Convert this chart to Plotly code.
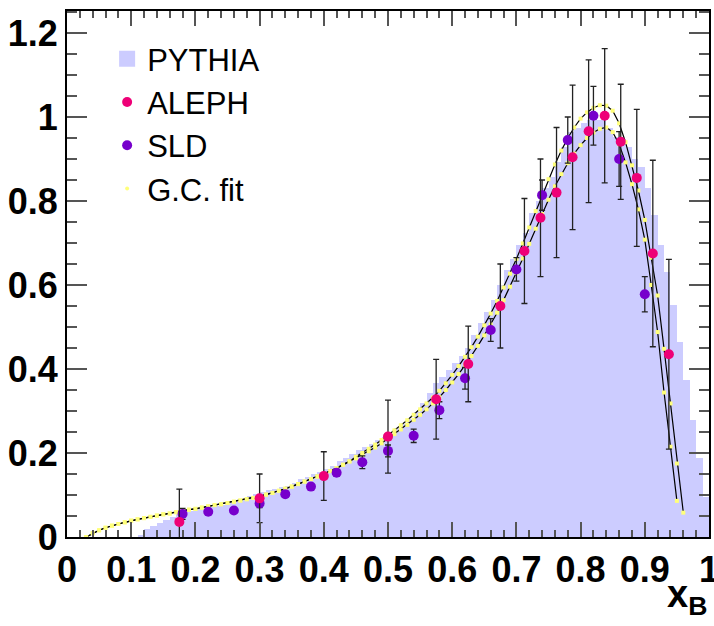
import plotly.graph_objects as go

# ---------------- data ----------------
# PYTHIA histogram: bin left edges (width 0.01) and contents
hist_left = [round(0.11 + 0.01 * i, 2) for i in range(89)]
hist_vals = [0.005, 0.018, 0.026, 0.034, 0.040, 0.047, 0.055, 0.059, 0.063, 0.066,
             0.069, 0.071, 0.074, 0.077, 0.080, 0.085, 0.091, 0.097, 0.103, 0.108,
             0.111, 0.114, 0.118, 0.121, 0.128, 0.137, 0.142, 0.149, 0.155, 0.162,
             0.170, 0.180, 0.189, 0.198, 0.207, 0.215, 0.222, 0.230, 0.238, 0.250,
             0.260, 0.270, 0.280, 0.298, 0.318, 0.342, 0.366, 0.382, 0.398, 0.414,
             0.432, 0.450, 0.480, 0.510, 0.535, 0.565, 0.600, 0.636, 0.662, 0.695,
             0.724, 0.771, 0.800, 0.830, 0.857, 0.893, 0.929, 0.964, 0.975, 0.986,
             0.993, 0.993, 0.993, 0.975, 0.952, 0.940, 0.929, 0.900, 0.881, 0.831,
             0.767, 0.695, 0.631, 0.552, 0.464, 0.374, 0.279, 0.188, 0.095]

# ALEPH data
aleph_x = [0.175, 0.30, 0.40, 0.50, 0.575, 0.625, 0.675, 0.7125, 0.7375, 0.7625,
           0.7875, 0.8125, 0.8375, 0.8625, 0.8875, 0.9125, 0.9375]
aleph_y = [0.036, 0.092, 0.145, 0.239, 0.328, 0.412, 0.550, 0.681, 0.760, 0.820,
           0.904, 0.966, 1.003, 0.941, 0.855, 0.675, 0.435]
aleph_err = [0.078, 0.058, 0.058, 0.087, 0.095, 0.090, 0.100, 0.125, 0.140, 0.155,
             0.172, 0.170, 0.160, 0.137, 0.163, 0.222, 0.226]

# SLD data
sld_x = [0.18, 0.22, 0.26, 0.30, 0.34, 0.38, 0.42, 0.46, 0.50, 0.54,
         0.58, 0.62, 0.66, 0.70, 0.74, 0.78, 0.82, 0.86, 0.90]
sld_y = [0.055, 0.060, 0.063, 0.080, 0.102, 0.120, 0.153, 0.178, 0.205, 0.241,
         0.302, 0.378, 0.493, 0.637, 0.814, 0.945, 1.003, 0.900, 0.578]
sld_err = [0.013, 0.004, 0.004, 0.010, 0.007, 0.007, 0.008, 0.015, 0.014, 0.016,
           0.020, 0.026, 0.027, 0.028, 0.036, 0.055, 0.070, 0.065, 0.042]

# G.C. fit curves (upper / lower), sampled every 0.01 from x = 0.03
fit_low = [0.000, 0.009, 0.016, 0.022, 0.027, 0.031, 0.035, 0.039, 0.042, 0.045,
           0.048, 0.051, 0.054, 0.056, 0.059, 0.062, 0.065, 0.067, 0.070, 0.073,
           0.076, 0.078, 0.081, 0.084, 0.087, 0.090, 0.093, 0.097, 0.101, 0.105,
           0.110, 0.115, 0.120, 0.126, 0.132, 0.138, 0.144, 0.150, 0.157, 0.164,
           0.172, 0.180]
fitA_high = [0.191, 0.200, 0.210, 0.220, 0.231, 0.242, 0.254, 0.266, 0.278, 0.291,
             0.304, 0.318, 0.332, 0.348, 0.366, 0.386, 0.407, 0.429, 0.452, 0.477,
             0.504, 0.532, 0.562, 0.594, 0.627, 0.662, 0.699, 0.737, 0.776, 0.815,
             0.852, 0.887, 0.920, 0.950, 0.975, 0.996, 1.011, 1.022, 1.028, 1.027,
             1.015, 0.985, 0.940, 0.885, 0.825, 0.755, 0.665, 0.575, 0.448, 0.318,
             0.175, 0.058]
fitB_high = [0.187, 0.196, 0.204, 0.213, 0.223, 0.234, 0.245, 0.256, 0.267, 0.279,
             0.291, 0.304, 0.318, 0.333, 0.350, 0.368, 0.388, 0.409, 0.431, 0.455,
             0.480, 0.506, 0.534, 0.564, 0.596, 0.629, 0.663, 0.698, 0.734, 0.769,
             0.803, 0.835, 0.864, 0.890, 0.913, 0.933, 0.950, 0.963, 0.972, 0.975,
             0.964, 0.935, 0.892, 0.840, 0.780, 0.708, 0.600, 0.488, 0.344, 0.215,
             0.086]
fitA_y = fit_low + fitA_high
fitB_y = fit_low + fitB_high
fitA_x = [round(0.03 + 0.01 * i, 2) for i in range(len(fitA_y))]
fitB_x = [round(0.03 + 0.01 * i, 2) for i in range(len(fitB_y))]

x_ticks = [round(0.1 * i, 1) for i in range(11)]
y_ticks = [0, 0.2, 0.4, 0.6, 0.8, 1, 1.2]

# ---------------- figure ----------------
BOLD_FONT = "Liberation Sans Narrow, Arial Narrow, Liberation Sans, Arial"
LEG_FONT = "Liberation Sans, Arial, Helvetica"
PINK = "#ee0077"
PURPLE = "#7700cc"
YELLOW = "#ffff7a"
LAVENDER = "#ccccff"

fig = go.Figure()

fig.add_trace(go.Bar(
    x=[l + 0.005 for l in hist_left], y=hist_vals, width=0.01,
    marker=dict(color=LAVENDER, line=dict(width=0)),
    name="PYTHIA", showlegend=False))

for fx, fy in ((fitA_x, fitA_y), (fitB_x, fitB_y)):
    fig.add_trace(go.Scatter(
        x=fx, y=fy, mode="lines+markers",
        line=dict(color="black", width=1.2),
        marker=dict(symbol="square", size=4, color=YELLOW, line=dict(width=0)),
        showlegend=False, hoverinfo="skip"))

fig.add_trace(go.Scatter(
    x=sld_x, y=sld_y, mode="markers", name="SLD", legendrank=3,
    marker=dict(symbol="circle", size=10, color=PURPLE, line=dict(width=0)),
    error_y=dict(type="data", array=sld_err, color="#222222", thickness=1.3, width=3)))

fig.add_trace(go.Scatter(
    x=aleph_x, y=aleph_y, mode="markers", name="ALEPH", legendrank=2,
    marker=dict(symbol="circle", size=10, color=PINK, line=dict(width=0)),
    error_y=dict(type="data", array=aleph_err, color="#222222", thickness=1.3, width=3)))

# legend-only entries
fig.add_trace(go.Scatter(
    x=[None], y=[None], mode="markers", name="PYTHIA", legendrank=1,
    marker=dict(symbol="square", size=16, color=LAVENDER, line=dict(width=0))))
fig.add_trace(go.Scatter(
    x=[None], y=[None], mode="markers", name="G.C. fit", legendrank=4,
    marker=dict(symbol="circle", size=4, color=YELLOW, line=dict(width=0))))

axis_common = dict(
    showline=True, linecolor="black", linewidth=2, mirror="ticks",
    ticks="inside", tickcolor="#555555", tickwidth=1.5,
    showgrid=False, zeroline=False, ticklabeloverflow="allow", automargin=False,
    tickfont=dict(family=BOLD_FONT, size=36, color="black", weight="bold"),
)

fig.update_layout(
    width=714, height=626,
    margin=dict(l=67, r=5, t=11, b=89),
    paper_bgcolor="white", plot_bgcolor="white",
    bargap=0,
    showlegend=True,
    legend=dict(x=0.0625, y=0.96, xanchor="left", yanchor="top",
                bgcolor="rgba(0,0,0,0)", borderwidth=0, itemsizing="trace",
                tracegroupgap=0,
                font=dict(family=LEG_FONT, size=31, color="black")),
    xaxis=dict(range=[0, 1], tickvals=x_ticks, ticklen=15,
               minor=dict(dtick=0.02, ticklen=7, ticks="inside", tickcolor="#555555"),
               **axis_common),
    yaxis=dict(range=[0, 1.2524], tickvals=y_ticks, ticklen=20,
               minor=dict(dtick=0.05, ticklen=10, ticks="inside", tickcolor="#555555"),
               **axis_common),
    annotations=[dict(
        text="x<sub>B</sub>", xref="paper", yref="paper", x=1.0, y=-0.115,
        xanchor="right", yanchor="middle", showarrow=False,
        font=dict(family=BOLD_FONT, size=38, color="black", weight="bold"))],
)

fig.write_html("out.html")
